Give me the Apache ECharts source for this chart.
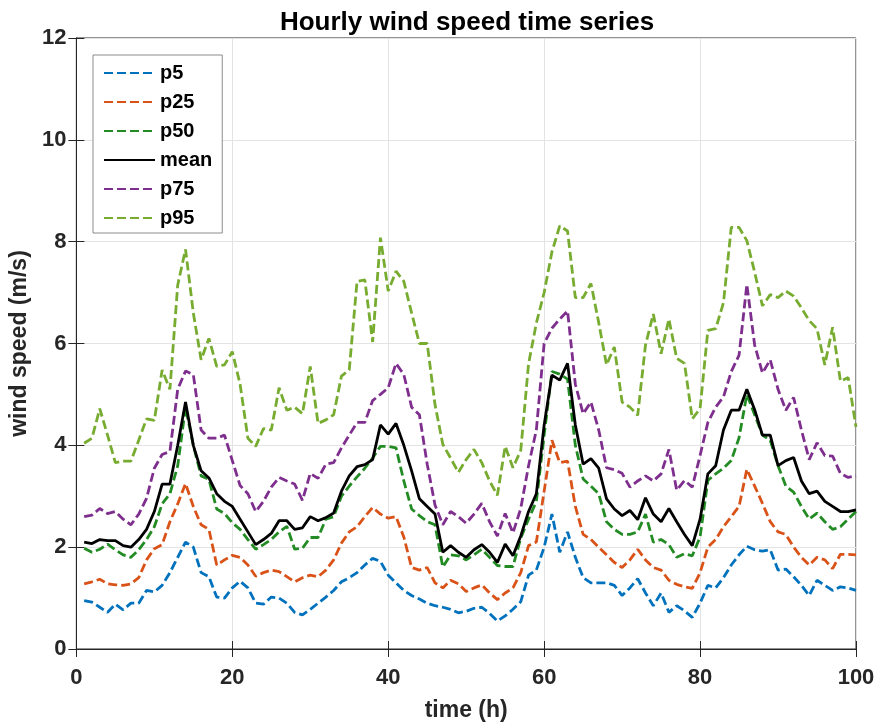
<!DOCTYPE html>
<html>
<head>
<meta charset="utf-8">
<script src="https://cdn.jsdelivr.net/npm/echarts@6/dist/echarts.min.js"></script>
<style>html,body{margin:0;padding:0;background:#fff}#c{width:879px;height:727px}</style>
</head>
<body>
<div id="c"></div>
<script>
const hours = Array.from({length: 100}, (_, i) => i + 1);
const xTicks = [0, 20, 40, 60, 80, 100];
const yTicks = [0, 2, 4, 6, 8, 10, 12];

const p5 = [0.95,0.92,0.82,0.72,0.88,0.77,0.9,0.9,1.15,1.12,1.25,1.5,1.8,2.1,2.0,1.5,1.42,1.02,1.0,1.2,
  1.33,1.2,0.9,0.88,1.02,1.0,0.9,0.72,0.67,0.78,0.9,1.02,1.15,1.32,1.4,1.5,1.65,1.78,1.72,1.45,
  1.3,1.15,1.05,0.98,0.9,0.85,0.82,0.78,0.71,0.74,0.8,0.82,0.7,0.55,0.65,0.78,0.93,1.45,1.55,2.0,
  2.65,1.9,2.3,1.8,1.4,1.3,1.3,1.3,1.25,1.05,1.2,1.38,1.1,0.85,1.1,0.72,0.85,0.75,0.62,0.9,
  1.25,1.2,1.4,1.65,1.85,2.02,1.95,1.92,1.95,1.55,1.57,1.42,1.25,1.05,1.35,1.25,1.15,1.22,1.2,1.15];

const p25 = [1.28,1.32,1.37,1.28,1.26,1.25,1.28,1.4,1.75,1.97,2.05,2.5,2.85,3.25,2.8,2.44,2.35,1.65,1.75,1.84,
  1.8,1.65,1.43,1.5,1.55,1.52,1.42,1.32,1.4,1.45,1.42,1.55,1.75,2.08,2.3,2.4,2.6,2.78,2.65,2.57,
  2.6,2.2,1.6,1.55,1.6,1.3,1.2,1.35,1.28,1.13,1.2,1.26,1.1,0.97,1.1,1.2,1.5,2.03,2.1,3.1,
  4.1,3.66,3.69,2.8,2.25,2.15,2.0,1.85,1.7,1.6,1.75,1.96,1.75,1.6,1.55,1.35,1.27,1.22,1.19,1.5,
  2.0,2.15,2.4,2.6,2.8,3.53,3.2,2.86,2.5,2.3,2.25,2.0,1.8,1.65,1.8,1.75,1.58,1.86,1.86,1.85];

const p50 = [1.98,1.9,1.96,2.06,1.95,1.85,1.8,1.95,2.15,2.4,2.85,3.05,3.6,4.75,4.0,3.4,3.33,2.75,2.66,2.48,
  2.35,2.15,1.96,2.05,2.15,2.3,2.41,1.96,1.98,2.19,2.19,2.55,2.6,3.0,3.2,3.38,3.55,3.75,3.98,3.98,
  3.95,3.3,2.75,2.62,2.5,2.44,1.61,1.85,1.83,1.75,1.85,1.96,1.8,1.64,1.62,1.62,2.18,2.55,2.9,4.2,
  5.45,5.4,5.3,4.0,3.34,3.2,3.05,2.5,2.35,2.25,2.25,2.3,2.65,2.1,2.15,2.05,1.8,1.87,1.83,2.2,
  3.31,3.44,3.55,3.7,4.15,5.0,4.6,4.2,4.1,3.6,3.2,3.08,2.8,2.55,2.67,2.5,2.35,2.4,2.55,2.7];

const meanV = [2.1,2.07,2.15,2.13,2.13,2.03,2.0,2.15,2.35,2.7,3.24,3.24,4.0,4.85,4.0,3.5,3.36,3.05,2.9,2.8,
  2.55,2.3,2.05,2.15,2.27,2.52,2.52,2.35,2.38,2.6,2.52,2.58,2.67,3.1,3.4,3.58,3.62,3.72,4.4,4.22,
  4.43,4.0,3.5,2.95,2.8,2.65,1.9,2.03,1.9,1.8,1.95,2.05,1.9,1.7,2.06,1.83,2.22,2.7,3.05,4.4,
  5.38,5.28,5.61,4.4,3.63,3.74,3.55,2.95,2.75,2.62,2.72,2.54,2.97,2.65,2.5,2.76,2.5,2.25,2.03,2.55,
  3.44,3.6,4.3,4.69,4.69,5.1,4.7,4.2,4.2,3.6,3.7,3.76,3.3,3.05,3.1,2.9,2.8,2.7,2.7,2.73];

const p75 = [2.6,2.63,2.76,2.66,2.7,2.55,2.44,2.65,2.96,3.55,3.82,3.88,5.1,5.46,5.39,4.3,4.14,4.14,4.2,3.7,
  3.21,3.05,2.7,2.9,3.18,3.37,3.3,3.24,2.92,3.45,3.35,3.63,3.66,3.95,4.2,4.45,4.45,4.88,5.0,5.13,
  5.61,5.39,4.75,4.6,3.63,2.83,2.44,2.7,2.6,2.47,2.65,2.86,2.5,2.22,2.66,2.28,2.76,3.6,4.3,6.0,
  6.3,6.48,6.64,5.2,4.62,4.85,4.3,3.56,3.52,3.45,3.18,3.3,3.4,3.3,3.44,3.92,3.12,3.31,3.18,3.8,
  4.45,4.75,4.95,5.45,5.77,7.16,5.97,5.42,5.68,5.1,4.69,4.94,4.3,3.72,4.05,3.8,3.79,3.45,3.37,3.4];

const p95 = [4.04,4.14,4.72,4.2,3.66,3.69,3.69,4.1,4.52,4.49,5.48,5.1,7.15,7.85,6.6,5.68,6.1,5.55,5.58,5.84,
  5.2,4.14,3.98,4.33,4.3,5.13,4.69,4.75,4.62,5.55,4.43,4.5,4.6,5.36,5.48,7.22,7.25,6.03,8.08,7.03,
  7.42,7.22,6.6,6.0,6.0,4.8,4.02,3.75,3.47,3.72,3.92,3.66,3.3,3.02,3.98,3.56,3.9,5.6,6.4,7.0,
  7.8,8.31,8.21,6.9,6.9,7.18,6.41,5.58,5.93,4.85,4.75,4.59,5.97,6.58,5.8,6.48,5.71,5.61,4.52,4.72,
  6.26,6.29,6.8,8.28,8.28,8.02,7.4,6.74,6.96,6.9,7.03,6.93,6.7,6.45,6.29,5.58,6.32,5.26,5.33,4.36];

const seriesNames = ['p5', 'p25', 'p50', 'mean', 'p75', 'p95'];
const seriesData = [p5, p25, p50, meanV, p75, p95];
const colors = ['#0072BD', '#D95319', '#238B23', '#000000', '#7E2F8E', '#77AC30'];
const dashed = [true, true, true, false, true, true];

const chart = echarts.init(document.getElementById('c'), null, {renderer: 'canvas'});
const font = '"Liberation Sans", Arial, Helvetica, sans-serif';
const axisColor = '#262626';

const series = seriesNames.map((n, i) => ({
  name: n,
  type: 'line',
  data: hours.map((h, k) => [h, seriesData[i][k]]),
  symbol: 'none',
  showSymbol: false,
  xAxisIndex: 0,
  yAxisIndex: 0,
  lineStyle: {color: colors[i], width: 2.8, type: dashed[i] ? [9, 4] : 'solid'},
  itemStyle: {color: colors[i]},
  z: 3,
  animation: false
}));

const tickStyle = {show: true, inside: true, length: 8, lineStyle: {color: axisColor, width: 1}};

const option = {
  animation: false,
  backgroundColor: '#fff',
  title: {
    text: 'Hourly wind speed time series',
    left: 462, top: 5, textAlign: 'center',
    textStyle: {fontFamily: font, fontSize: 26, fontWeight: 'bold', color: '#000'}
  },
  legend: {
    orient: 'vertical',
    left: 93, top: 55,
    data: seriesNames,
    itemWidth: 51, itemHeight: 12, itemGap: 9,
    padding: [8, 10, 5, 10],
    backgroundColor: '#fff',
    borderColor: '#8c8c8c', borderWidth: 1,
    itemStyle: {opacity: 0},
    textStyle: {fontFamily: font, fontSize: 20, fontWeight: 'bold', color: '#000', lineHeight: 20},
    z: 10
  },
  grid: {left: 76, right: 23, top: 38, bottom: 73, show: true, borderColor: axisColor, borderWidth: 1, backgroundColor: 'transparent'},
  xAxis: [{
    type: 'value', min: xTicks[0], max: xTicks[xTicks.length - 1], interval: 20,
    name: 'time (h)', nameLocation: 'middle', nameGap: 50,
    nameTextStyle: {fontFamily: font, fontSize: 23, fontWeight: 'bold', color: axisColor},
    axisLine: {show: true, lineStyle: {color: axisColor, width: 1}},
    axisTick: tickStyle,
    axisLabel: {fontFamily: font, fontSize: 22, fontWeight: 'bold', color: axisColor, margin: 18},
    splitLine: {show: true, lineStyle: {color: '#e3e3e3', width: 1}}
  }, {
    type: 'value', position: 'top', min: 0, max: 100, interval: 20,
    axisLine: {show: true, lineStyle: {color: axisColor}},
    axisTick: tickStyle,
    axisLabel: {show: false}, splitLine: {show: false}
  }],
  yAxis: [{
    type: 'value', min: yTicks[0], max: yTicks[yTicks.length - 1], interval: 2,
    name: 'wind speed (m/s)', nameLocation: 'middle', nameGap: 41, nameRotate: 90,
    nameTextStyle: {fontFamily: font, fontSize: 23, fontWeight: 'bold', color: axisColor},
    axisLine: {show: true, lineStyle: {color: axisColor, width: 1}},
    axisTick: tickStyle,
    axisLabel: {fontFamily: font, fontSize: 22, fontWeight: 'bold', color: axisColor, margin: 10},
    splitLine: {show: true, lineStyle: {color: '#e3e3e3', width: 1}}
  }, {
    type: 'value', position: 'right', min: 0, max: 12, interval: 2,
    axisLine: {show: true, lineStyle: {color: axisColor}},
    axisTick: tickStyle,
    axisLabel: {show: false}, splitLine: {show: false}
  }],
  series: series
};
chart.setOption(option);
</script>
</body>
</html>
